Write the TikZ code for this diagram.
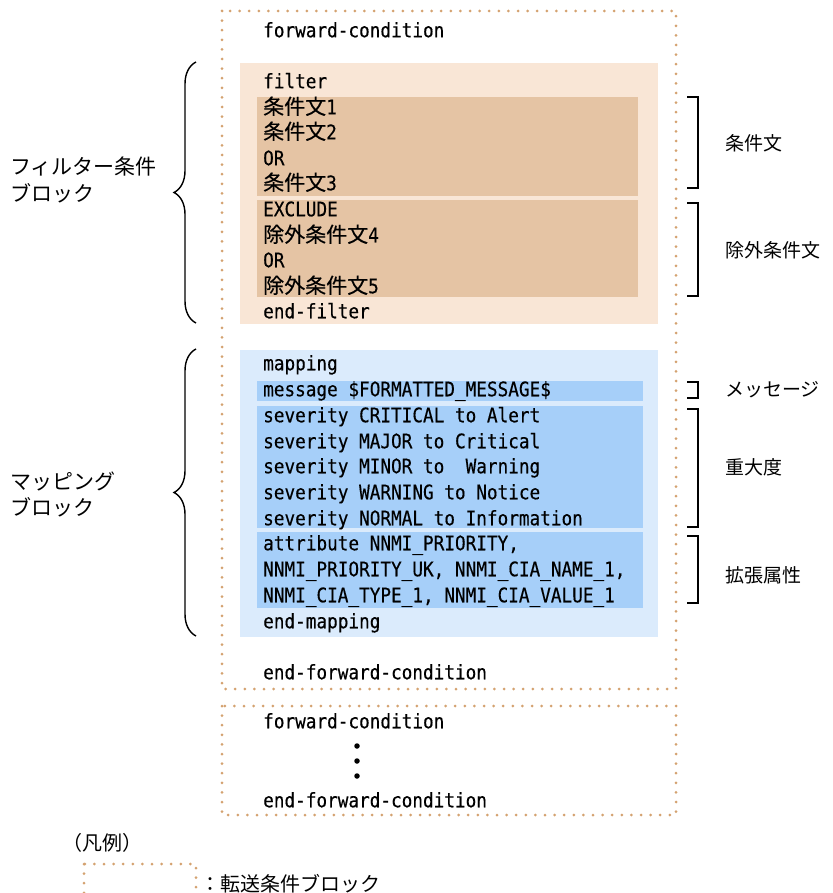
\documentclass[tikz,border=0pt]{standalone}
\usepackage{fontspec}
\usetikzlibrary{decorations.pathreplacing}
\newfontfamily\codefont[FakeStretch=0.885,FakeBold=0.35]{DejaVu Sans Mono}
\newfontfamily\cjk{Noto Sans CJK JP}
\newfontfamily\cjkc[Scale=1.05,FakeBold=0.35]{Noto Sans CJK JP}
\definecolor{dotc}{RGB}{212,162,112}
\definecolor{peachL}{RGB}{249,230,214}
\definecolor{peachD}{RGB}{229,196,164}
\definecolor{blueL}{RGB}{219,235,252}
\definecolor{blueD}{RGB}{166,207,249}
\tikzset{
  dotbox/.style={draw=dotc, line width=3pt, line cap=round, dash pattern=on 0pt off 9.6pt},
  code/.style={font=\codefont\fontsize{20}{20}\selectfont, anchor=west, inner sep=0pt, text height=14.5pt, text depth=4pt},
  lbl/.style={font=\cjk\fontsize{20}{20}\selectfont, anchor=west, inner sep=0pt},
  lbll/.style={font=\cjk\fontsize{21}{21}\selectfont, anchor=west, inner sep=0pt},
  lblr/.style={font=\cjk\fontsize{19}{19}\selectfont, anchor=west, inner sep=0pt},
  area/.style={anchor=north west, inner sep=0pt, outer sep=0pt, draw=none},
  brk/.style={draw=black, line width=1.3pt},
  brc/.style={draw=black, line width=1.4pt, decorate, decoration={brace, amplitude=22pt}},
  dotnode/.style={circle, fill=black, inner sep=0pt, minimum size=5.5pt}
}
\begin{document}
\begin{tikzpicture}[x=1pt,y=-1pt]
\useasboundingbox (0,0) rectangle (832,893);
\clip (0,0) rectangle (832,893);
\fill[white] (0,0) rectangle (832,893);
% areas
\node[area, fill=peachL, minimum width=418pt, minimum height=261pt] (filterbox) at (240,63) {};
\node[area, fill=peachD, minimum width=381pt, minimum height=99pt] (condbox) at (257,97) {};
\node[area, fill=peachD, minimum width=381pt, minimum height=97pt] (exclbox) at (257,200) {};
\node[area, fill=blueL, minimum width=418pt, minimum height=287pt] (mapbox) at (240,350) {};
\node[area, fill=blueD, minimum width=386pt, minimum height=20pt] (msgbox) at (257,381) {};
\node[area, fill=blueD, minimum width=386pt, minimum height=122pt] (sevbox) at (257,406) {};
\node[area, fill=blueD, minimum width=386pt, minimum height=76pt] (attrbox) at (257,532) {};
% dotted blocks
\draw[dotbox] (222,11) rectangle (676,689);
\draw[dotbox] (222,706) rectangle (676,815);
% code lines
\node[code] (fc1) at (263,32) {forward-condition};
\node[code] (filt) at (263,83) {filter};
\node[code] (c1) at (263,109) {{\cjkc 条件文}1};
\node[code] (c2) at (263,134) {{\cjkc 条件文}2};
\node[code] (or1) at (263,160) {OR};
\node[code] (c3) at (263,185) {{\cjkc 条件文}3};
\node[code] (excl) at (263,211) {EXCLUDE};
\node[code] (e4) at (263,237) {{\cjkc 除外条件文}4};
\node[code] (or2) at (263,262) {OR};
\node[code] (e5) at (263,288) {{\cjkc 除外条件文}5};
\node[code] (endfilt) at (263,313) {end-filter};
\node[code] (map) at (263,365) {mapping};
\node[code] (msg) at (263,391) {message \$FORMATTED\_MESSAGE\$};
\node[code] (s1) at (263,417) {severity CRITICAL to Alert};
\node[code] (s2) at (263,443) {severity MAJOR to Critical};
\node[code] (s3) at (263,468) {severity MINOR to\ \ Warning};
\node[code] (s4) at (263,494) {severity WARNING to Notice};
\node[code] (s5) at (263,520) {severity NORMAL to Information};
\node[code] (a1) at (263,545) {attribute NNMI\_PRIORITY,};
\node[code] (a2) at (263,571) {NNMI\_PRIORITY\_UK, NNMI\_CIA\_NAME\_1,};
\node[code] (a3) at (263,597) {NNMI\_CIA\_TYPE\_1, NNMI\_CIA\_VALUE\_1};
\node[code] (endmap) at (263,623) {end-mapping};
\node[code] (efc1) at (263,674) {end-forward-condition};
\node[code] (fc2) at (263,723) {forward-condition};
\node[dotnode] (d1) at (357,746) {};
\node[dotnode] (d2) at (357,761) {};
\node[dotnode] (d3) at (357,776) {};
\node[code] (efc2) at (263,802) {end-forward-condition};
% left braces
\coordinate (b1t) at (196,62);
\coordinate (b1b) at (196,323);
\coordinate (b2t) at (196,349);
\coordinate (b2b) at (196,636);
\draw[brc] (b1b) -- (b1t);
\draw[brc] (b2b) -- (b2t);
\node[lbll] (lf1) at (10,167) {フィルター条件};
\node[lbll] (lf2) at (10,193) {ブロック};
\node[lbll] (lm1) at (10,481) {マッピング};
\node[lbll] (lm2) at (10,507) {ブロック};
% right brackets
\draw[brk] (687,97) -- (698,97) -- (698,188) -- (687,188);
\draw[brk] (687,203) -- (698,203) -- (698,296) -- (687,296);
\draw[brk] (687,382) -- (698,382) -- (698,398) -- (687,398);
\draw[brk] (687,409) -- (698,409) -- (698,527) -- (687,527);
\draw[brk] (687,536) -- (698,536) -- (698,603) -- (687,603);
\node[lblr] (r1) at (725,143) {条件文};
\node[lblr] (r2) at (725,250) {除外条件文};
\node[lblr] (r3) at (725,390) {メッセージ};
\node[lblr] (r4) at (725,467) {重大度};
\node[lblr] (r5) at (725,575) {拡張属性};
% legend
\node[lbl] (legt) at (62,843) {（凡例）};
\draw[dotbox] (84,864) rectangle (196,930);
\node[lbl] (legx) at (200,884) {：転送条件ブロック};
\end{tikzpicture}
\end{document}
